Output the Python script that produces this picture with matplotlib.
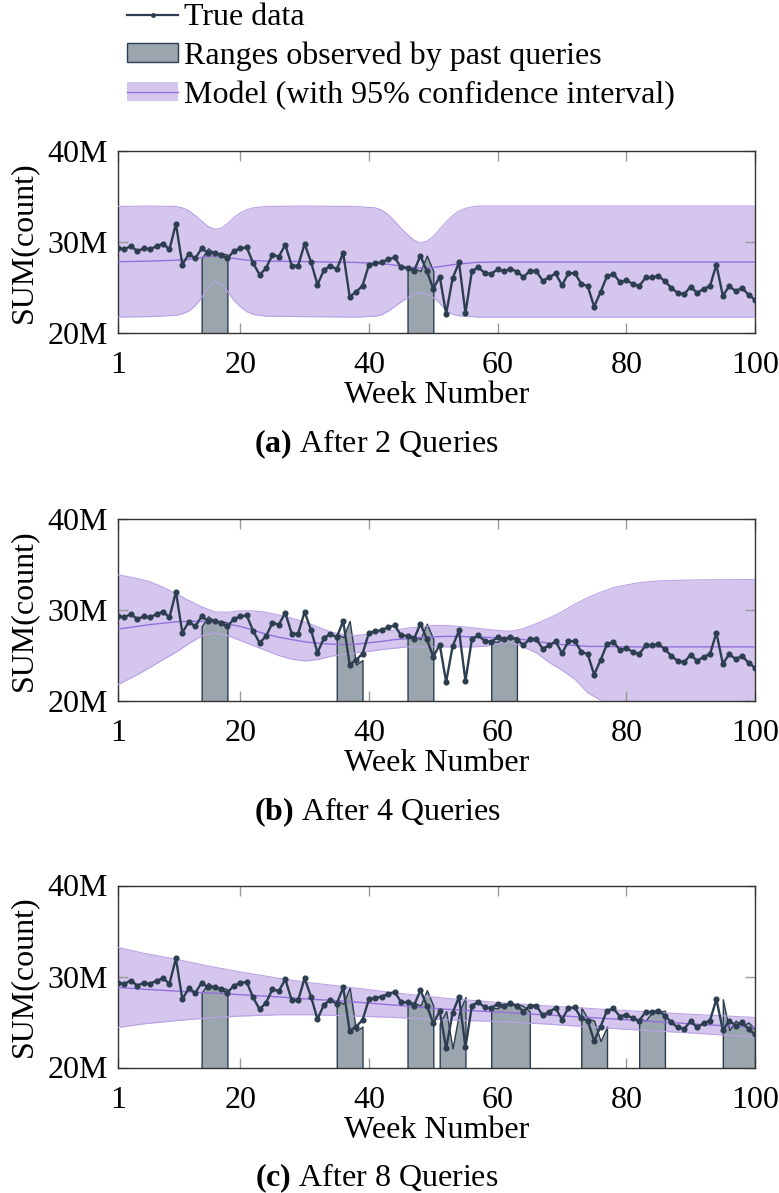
import numpy as np
import matplotlib
matplotlib.use("Agg")
import matplotlib.pyplot as plt
from matplotlib.lines import Line2D
from matplotlib.patches import Patch

plt.rcParams['font.family'] = ['Liberation Serif', 'DejaVu Serif']
plt.rcParams['mathtext.fontset'] = 'custom'
plt.rcParams['mathtext.rm'] = 'Liberation Serif'
plt.rcParams['mathtext.bf'] = 'Liberation Serif:bold'

# ---------------- data ----------------
weeks = list(range(1, 101))
true_vals = [29.3, 29.2, 29.55, 29.0, 29.3, 29.2, 29.55, 29.8, 29.2, 32.0,
             27.5, 28.7, 28.2, 29.3, 28.8, 28.8, 28.6, 28.2, 29.0, 29.3,
             29.4, 27.7, 26.4, 27.1, 28.6, 28.4, 29.7, 27.4, 27.4, 29.8,
             27.8, 25.3, 26.9, 27.4, 27.0, 28.8, 24.0, 24.5, 25.2, 27.5,
             27.65, 27.8, 28.1, 28.3, 27.2, 27.15, 26.8, 28.5, 26.8, 24.85,
             26.2, 22.1, 26.0, 27.75, 22.2, 26.8, 27.2, 26.6, 26.5, 27.0,
             26.8, 27.05, 26.75, 26.15, 26.8, 26.8, 25.75, 26.1, 26.55, 25.25,
             26.55, 26.6, 25.4, 25.15, 22.9, 24.5, 26.25, 26.5, 25.6, 25.8,
             25.4, 25.15, 26.1, 26.1, 26.25, 25.7, 24.95, 24.4, 24.25, 25.1,
             24.4, 24.85, 25.15, 27.5, 24.1, 25.15, 24.6, 24.95, 24.2, 23.65]

# model (a)
xa = [1, 6, 10, 11, 12, 13, 14, 15, 16, 17, 18, 19, 20, 21, 22, 24, 30, 38, 41, 42,
      43, 44, 45, 46, 47, 48, 49, 50, 51, 52, 53, 54, 55, 56, 57, 60, 100]
mean_a = [27.83, 27.9, 28.0, 28.05, 28.1, 28.2, 28.3, 28.4, 28.45, 28.4,
          28.3, 28.2, 28.1, 28.0, 27.97, 27.9, 27.85, 27.75, 27.68, 27.6,
          27.55, 27.45, 27.35, 27.25, 27.2, 27.15, 27.15, 27.2, 27.3, 27.4,
          27.5, 27.6, 27.65, 27.72, 27.77, 27.8, 27.8]
upper_a = [33.9, 33.95, 33.9, 33.75, 33.45, 32.9, 32.3, 31.7, 31.4, 31.5,
           32.0, 32.7, 33.2, 33.55, 33.75, 33.9, 33.95, 33.9, 33.75, 33.5,
           33.0, 32.3, 31.5, 30.8, 30.2, 29.9, 30.1, 30.6, 31.4, 32.2,
           32.9, 33.4, 33.7, 33.85, 33.95, 33.95, 33.95]
lower_a = [21.75, 21.8, 21.95, 22.1, 22.4, 23.0, 23.9, 25.0, 25.6, 25.4,
           24.6, 23.6, 22.9, 22.35, 22.05, 21.85, 21.8, 21.75, 21.85, 22.0,
           22.4, 22.9, 23.4, 23.85, 24.25, 24.45, 24.3, 23.9, 23.3, 22.4,
           22.05, 21.9, 21.85, 21.8, 21.75, 21.75, 21.75]

# model (b)
xb = [1, 4, 6, 8, 10, 12, 14, 16, 18, 20, 22, 24, 26, 28, 30, 32, 34, 36, 38, 40,
      42, 44, 46, 48, 50, 52, 54, 56, 58, 60, 62, 64, 66, 68, 70, 72, 74, 76, 78, 80,
      82, 85, 90, 100]
mean_b = [27.9, 28.2, 28.4, 28.55, 28.7, 28.75, 28.75, 28.65, 28.45, 28.2,
          27.8, 27.35, 27.0, 26.75, 26.5, 26.35, 26.25, 26.2, 26.25, 26.4,
          26.55, 26.75, 26.85, 27.0, 27.05, 27.1, 27.1, 27.05, 27.0, 26.95,
          26.9, 26.75, 26.55, 26.35, 26.2, 26.1, 26.0, 26.0, 25.97, 25.95,
          25.95, 25.95, 25.95, 25.95]
upper_b = [33.87, 33.45, 33.1, 32.5, 31.8, 31.05, 30.35, 29.8, 29.75, 29.9,
           29.9, 29.75, 29.45, 29.1, 28.7, 28.15, 27.6, 27.3, 27.2, 27.35,
           27.6, 27.8, 28.0, 28.15, 28.3, 28.3, 28.2, 28.05, 27.9, 27.75,
           27.65, 27.95, 28.5, 29.1, 29.8, 30.65, 31.35, 31.95, 32.45, 32.75,
           33.0, 33.2, 33.3, 33.35]
lower_b = [21.8, 22.9, 23.7, 24.55, 25.35, 26.3, 27.15, 27.5, 27.2, 26.65,
           26.1, 25.55, 25.0, 24.6, 24.4, 24.55, 24.9, 25.15, 25.3, 25.45,
           25.65, 25.8, 25.95, 25.95, 25.95, 25.95, 25.95, 25.95, 26.0, 26.3,
           26.45, 25.95, 25.3, 24.25, 23.4, 22.4, 20.9, 20.1, 19.5, 19.15,
           18.9, 18.7, 18.6, 18.55]

# model (c)
xc = [1, 5, 10, 15, 20, 26, 31, 36, 44, 52, 60, 67, 80, 90, 100]
mean_c = [28.8, 28.6, 28.4, 28.2, 28.0, 27.75, 27.5, 27.3, 26.85, 26.4, 26.1, 25.8, 25.25, 24.8, 24.4]
upper_c = [33.2, 32.55, 31.9, 31.15, 30.5, 29.8, 29.3, 28.9, 28.2, 27.6, 27.15, 26.8, 26.25, 25.85, 25.5]
lower_c = [24.4, 24.8, 25.15, 25.45, 25.65, 25.8, 25.8, 25.7, 25.5, 25.25, 25.05, 24.8, 24.2, 23.8, 23.35]

ranges_a = [(14, 18), (46, 50)]
ranges_b = [(14, 18), (35, 39), (46, 50), (59, 63)]
ranges_c = [(14, 18), (35, 39), (46, 50), (51, 55), (59, 65), (73, 77), (82, 86), (95, 100)]

captions = ["(a)", "(b)", "(c)"]
caption_texts = ["After 2 Queries", "After 4 Queries", "After 8 Queries"]
xticks = [1, 20, 40, 60, 80, 100]
yticks = [20, 30, 40]
ytick_labels = ["20M", "30M", "40M"]

# ---------------- style ----------------
C_DATA = '#2c3e50'
C_GRAY = '#9ba5ae'
C_BAND = '#d5c6ee'
C_BAND_EDGE = '#b9a3e6'
C_MEAN = '#9370db'
FS = 23

W, H = 779, 1193
fig = plt.figure(figsize=(W / 100, H / 100), dpi=100)

panels = [
    (xa, mean_a, upper_a, lower_a, ranges_a, 333),
    (xb, mean_b, upper_b, lower_b, ranges_b, 701),
    (xc, mean_c, upper_c, lower_c, ranges_c, 1067.5),
]

w = np.array(weeks)
v = np.array(true_vals)
v_prev = np.concatenate([[v[0]], v[:-1]])

for i, (xk, mk, uk, lk, rngs, ybot) in enumerate(panels):
    ax = fig.add_axes([118 / W, 1 - ybot / H, 637 / W, 182 / H])
    ax.fill_between(xk, lk, uk, color=C_BAND, lw=0, zorder=1)
    for a, b in rngs:
        sel = (w >= a) & (w <= b)
        ax.fill_between(w[sel], 0, v_prev[sel], facecolor=C_GRAY,
                        edgecolor=C_DATA, lw=1.0, zorder=2)
    ax.plot(xk, uk, color=C_BAND_EDGE, lw=0.8, zorder=3)
    ax.plot(xk, lk, color=C_BAND_EDGE, lw=0.8, zorder=3)
    ax.plot(xk, mk, color=C_MEAN, lw=1.0, zorder=3)
    ax.plot(w, v, color=C_DATA, lw=1.7, marker='o', ms=3.4, zorder=4)

    ax.set_xlim(1, 100)
    ax.set_ylim(20, 40)
    ax.set_xticks(xticks)
    ax.set_xticklabels([str(t) for t in xticks])
    ax.set_yticks(yticks)
    ax.set_yticklabels(ytick_labels)
    ax.tick_params(direction='in', length=7, width=1.0, color='#9a9a9a',
                   top=True, right=True, labelsize=FS)
    ax.tick_params(axis='x', pad=13)
    ax.tick_params(axis='y', pad=7)
    for s in ax.spines.values():
        s.set_color('#333333')
        s.set_linewidth(1.0)
    ax.set_xlabel("Week Number", fontsize=FS, labelpad=1)
    ax.set_ylabel("SUM(count)", fontsize=FS)
    ax.yaxis.set_label_coords(-(118 - 38) / 637, 0.5)

    cap_y = 1 - (ybot + 119) / H
    fig.text(377 / W, cap_y, r"$\mathbf{" + captions[i] + r"}$ " + caption_texts[i],
             ha='center', va='baseline', fontsize=FS)

handles = [
    Line2D([], [], color=C_DATA, lw=1.6, marker='o', ms=2.5),
    Patch(facecolor=C_GRAY, edgecolor=C_DATA, lw=1.0),
    (Patch(facecolor=C_BAND, edgecolor='none'), Line2D([], [], color=C_MEAN, lw=1.0)),
]
labels = ["True data", "Ranges observed by past queries", "Model (with 95% confidence interval)"]
fig.legend(handles, labels, loc='upper left', bbox_to_anchor=(127 / W, 1 - 3 / H),
           frameon=False, fontsize=FS, handlelength=1.6, handleheight=0.55,
           handletextpad=0.2, labelspacing=0.3, borderpad=0, borderaxespad=0)

fig.savefig("out.png", dpi=100)
